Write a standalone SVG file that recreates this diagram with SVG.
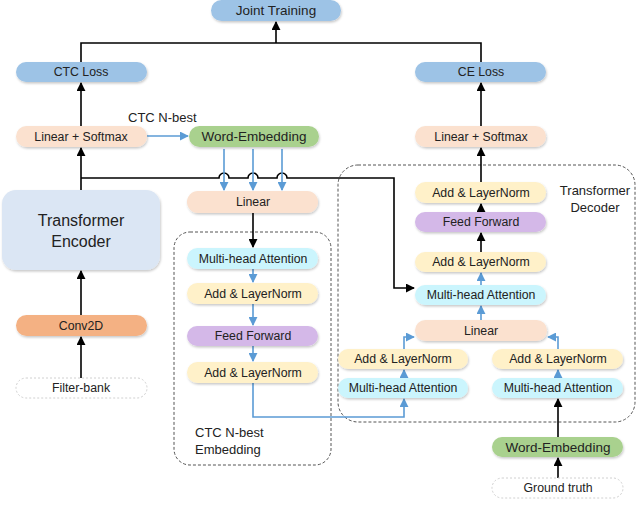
<svg xmlns="http://www.w3.org/2000/svg" width="640" height="505" viewBox="0 0 640 505">
<defs>
<filter id="sh" x="-10%" y="-30%" width="120%" height="170%"><feDropShadow dx="0.8" dy="1.5" stdDeviation="1" flood-color="#000" flood-opacity="0.22"/></filter>
<marker id="ak" viewBox="0 0 10 10" refX="9" refY="5" markerWidth="9" markerHeight="9" markerUnits="userSpaceOnUse" orient="auto"><path d="M0,0 L10,5 L0,10 z" fill="#000"/></marker>
<marker id="ab" viewBox="0 0 10 10" refX="9" refY="5" markerWidth="9" markerHeight="9" markerUnits="userSpaceOnUse" orient="auto"><path d="M0,0 L10,5 L0,10 z" fill="#5b9bd5"/></marker>
</defs>
<style>
text{font-family:"Liberation Sans",Arial,sans-serif;font-size:12.3px;fill:#222;text-anchor:middle;dominant-baseline:central}
.n{filter:url(#sh)}
.loss{fill:#9dc3e6}
.lin{fill:#fbe1cf}
.we{fill:#a9d18e}
.conv{fill:#f4b183}
.mha{fill:#cbf5fd}
.aln{fill:#fff1c9}
.ff{fill:#d4b8e8}
.enc{fill:#dbe6f4}
.inp{fill:#fff;stroke:#d0d0d0;stroke-dasharray:2,2}
.k{fill:none;stroke:#000;stroke-width:1.6;marker-end:url(#ak)}
.kl{fill:none;stroke:#000;stroke-width:1.6}
.b{fill:none;stroke:#5b9bd5;stroke-width:1.6;marker-end:url(#ab)}
.d{fill:none;stroke:#555;stroke-width:1;stroke-dasharray:3,2}
.lab{text-anchor:start;font-size:13px}
.big{font-size:13.5px}
</style>

<g id="frames">
<rect class="d" x="174" y="232" width="157" height="233" rx="16"/>
<rect class="d" x="338" y="165" width="297" height="257" rx="20"/>
</g>

<g id="connectors">
<path class="kl" d="M81,62 V43 H481 V62"/>
<path class="k" d="M276,43 V22"/>
<path class="k" d="M81,126 V83"/>
<path class="k" d="M481,126 V83"/>
<path class="k" d="M81,190 V148"/>
<path class="b" d="M147,136 H188"/>
<path class="k" d="M81,178 H219 a5,5 0 0 1 10,0 H248 a5,5 0 0 1 10,0 H277 a5,5 0 0 1 10,0 H394 V288 H414"/>
<path class="b" d="M224,149 V190"/>
<path class="b" d="M253,149 V190"/>
<path class="b" d="M282,149 V190"/>
<path class="k" d="M253,213 V247"/>
<path class="b" d="M253,269 V282"/>
<path class="b" d="M253,304 V325"/>
<path class="b" d="M253,346 V361"/>
<path class="b" d="M253,383 V417 H404 V399"/>
<path class="k" d="M81,315 V271"/>
<path class="k" d="M81,378 V337"/>
<path class="k" d="M481,182 V148"/>
<path class="k" d="M481,212 V204"/>
<path class="k" d="M481,252 V233"/>
<path class="b" d="M481,285 V273"/>
<path class="b" d="M481,320 V306"/>
<path class="b" d="M404,349 V337 H414"/>
<path class="b" d="M558,349 V337 H548"/>
<path class="b" d="M404,378 V370"/>
<path class="b" d="M558,378 V370"/>
<path class="k" d="M558,437 V399"/>
<path class="k" d="M558,478 V458"/>
</g>

<g id="joint"><rect class="n loss" x="211" y="0" width="130" height="21" rx="10.5"/><text class="big" x="276" y="10.5">Joint Training</text></g>
<g id="ctcloss"><rect class="n loss" x="16" y="62" width="131" height="20" rx="10"/><text x="81" y="72">CTC Loss</text></g>
<g id="celoss"><rect class="n loss" x="415" y="62" width="131" height="20" rx="10"/><text x="481" y="72">CE Loss</text></g>
<g id="linsm1"><rect class="n lin" x="16" y="126" width="131" height="21" rx="10.5"/><text x="81" y="136.5">Linear + Softmax</text></g>
<g id="we1"><rect class="n we" x="189" y="126" width="130" height="21" rx="10.5"/><text class="big" x="254" y="136.5">Word-Embedding</text></g>
<g id="linsm2"><rect class="n lin" x="415" y="126" width="131" height="21" rx="10.5"/><text x="481" y="136.5">Linear + Softmax</text></g>
<text class="lab" x="128" y="117">CTC N-best</text>

<g id="encoder"><rect class="n enc" x="2" y="190" width="158" height="80" rx="14"/><text x="81" y="220" style="font-size:16px">Transformer</text><text x="81" y="241" style="font-size:16px">Encoder</text></g>
<g id="conv"><rect class="n conv" x="16" y="315" width="131" height="21" rx="10.5"/><text x="81" y="325.5">Conv2D</text></g>
<g id="fbank"><rect class="inp" x="16" y="378" width="131" height="20" rx="10"/><text x="81" y="388">Filter-bank</text></g>

<g id="lin1"><rect class="n lin" x="187" y="191" width="131" height="22" rx="11"/><text x="253" y="202">Linear</text></g>
<g id="mha1"><rect class="n mha" x="187" y="248" width="131" height="21" rx="10.5"/><text x="253" y="258.5">Multi-head Attention</text></g>
<g id="aln1"><rect class="n aln" x="187" y="283" width="131" height="21" rx="10.5"/><text x="253" y="293.5">Add &amp; LayerNorm</text></g>
<g id="ff1"><rect class="n ff" x="187" y="326" width="131" height="20" rx="10"/><text x="253" y="336">Feed Forward</text></g>
<g id="aln2"><rect class="n aln" x="187" y="362" width="131" height="21" rx="10.5"/><text x="253" y="372.5">Add &amp; LayerNorm</text></g>
<text class="lab" x="195" y="432">CTC N-best</text>
<text class="lab" x="195" y="449">Embedding</text>

<g id="daln2"><rect class="n aln" x="415" y="182" width="131" height="21" rx="10.5"/><text x="481" y="192.5">Add &amp; LayerNorm</text></g>
<g id="dff"><rect class="n ff" x="415" y="212" width="131" height="20" rx="10"/><text x="481" y="222">Feed Forward</text></g>
<g id="daln1"><rect class="n aln" x="415" y="252" width="131" height="20" rx="10"/><text x="481" y="262">Add &amp; LayerNorm</text></g>
<g id="dmha"><rect class="n mha" x="415" y="285" width="131" height="20" rx="10"/><text x="481" y="295">Multi-head Attention</text></g>
<g id="dlin"><rect class="n lin" x="415" y="320" width="132" height="21" rx="10.5"/><text x="481" y="330.5">Linear</text></g>
<g id="laln"><rect class="n aln" x="338" y="349" width="130" height="20" rx="10"/><text x="403" y="359">Add &amp; LayerNorm</text></g>
<g id="lmha"><rect class="n mha" x="338" y="378" width="130" height="20" rx="10"/><text x="403" y="388">Multi-head Attention</text></g>
<g id="raln"><rect class="n aln" x="492" y="349" width="131" height="20" rx="10"/><text x="558" y="359">Add &amp; LayerNorm</text></g>
<g id="rmha"><rect class="n mha" x="492" y="378" width="131" height="20" rx="10"/><text x="558" y="388">Multi-head Attention</text></g>
<g id="we2"><rect class="n we" x="492" y="437" width="131" height="20" rx="10"/><text class="big" x="558" y="447">Word-Embedding</text></g>
<g id="gt"><rect class="inp" x="492" y="478" width="131" height="20" rx="10"/><text x="558" y="488">Ground truth</text></g>
<text x="595" y="190" style="font-size:13px">Transformer</text>
<text x="595" y="207" style="font-size:13px">Decoder</text>
</svg>
